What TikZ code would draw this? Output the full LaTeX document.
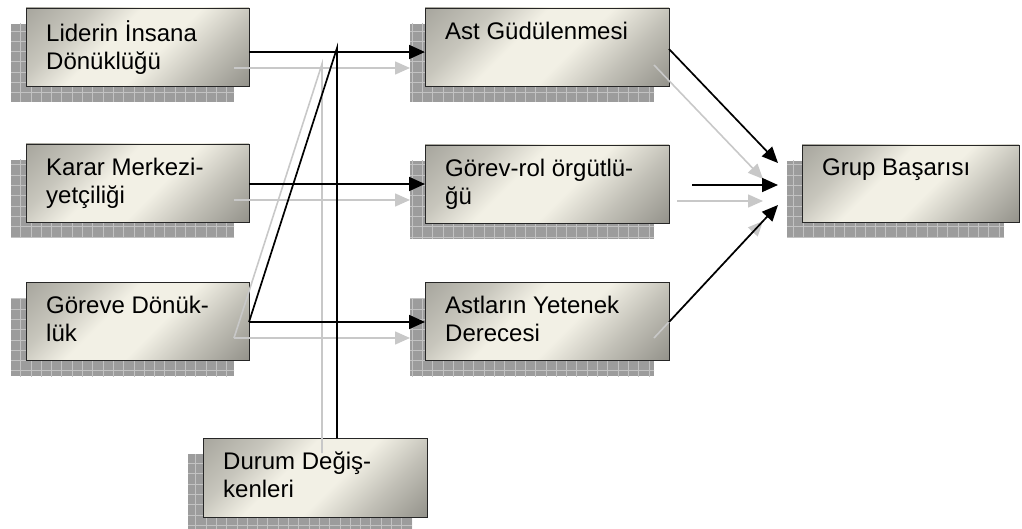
\documentclass[tikz,border=0pt]{standalone}
\usepackage{fontspec}
\setmainfont{Liberation Sans}
\usetikzlibrary{arrows.meta,calc}

\definecolor{boxdark}{RGB}{136,135,128}
\definecolor{boxlight}{RGB}{242,240,229}
\definecolor{boxdeep}{RGB}{104,103,97}
\definecolor{shadowfill}{RGB}{156,156,156}
\definecolor{shadowline}{RGB}{194,194,194}
\definecolor{ghost}{RGB}{200,200,200}

\pgfdeclarelayer{background}
\pgfsetlayers{background,main}

\pgfdeclarehorizontalshading{panelshade}{100bp}{%
  color(0bp)=(boxdark); color(30bp)=(boxdark!40!boxlight);
  color(42bp)=(boxlight); color(56bp)=(boxlight);
  color(70bp)=(boxlight!65!boxdeep); color(100bp)=(boxdeep)}

\tikzset{
  panel/.style={draw=black!85, line width=0.9pt,
    shading=panelshade, shading angle=-45,
    minimum width=223pt, minimum height=78pt,
    anchor=north west, inner sep=0pt, outer sep=0pt},
  caption/.style={anchor=north west, align=left, inner sep=0pt,
    font=\fontsize{24}{28}\selectfont},
  link/.style={line width=1.7pt, black, -{Triangle[length=16pt,width=14pt]}},
  plain/.style={line width=1.7pt, black},
  ghostlink/.style={line width=1.6pt, ghost, -{Triangle[length=15pt,width=13pt]}},
  ghostline/.style={line width=1.6pt, ghost},
}

% grid-patterned drop shadow behind a box, offset down and to the left
\newcommand\gridshadow[1]{%
  \begin{scope}
    \path[clip] ($(#1.south west)+(-15,-16)$) rectangle ($(#1.north east)+(-15,-16)$);
    \fill[shadowfill] ($(#1.south west)+(-15,-16)$) rectangle ($(#1.north east)+(-15,-16)$);
    \draw[shadowline, line width=0.7pt, step=10.3pt]
      ($(#1.south west)+(-30,-30)$) grid ($(#1.north east)+(0,0)$);
  \end{scope}}

\begin{document}
\begin{tikzpicture}[x=1pt, y=1pt]
  \useasboundingbox (0,-529) rectangle (1022,0);

  % boxes
  \node[panel] (b1) at (26,-8) {};
  \node[panel] (b2) at (26,-144) {};
  \node[panel] (b3) at (26,-282) {};
  \node[panel, minimum width=244pt] (m1) at (425,-8) {};
  \node[panel, minimum width=244pt] (m2) at (425,-145) {};
  \node[panel, minimum width=244pt] (m3) at (425,-282) {};
  \node[panel, minimum width=217pt, minimum height=77pt] (g) at (802,-145) {};
  \node[panel, minimum width=224pt, minimum height=79pt] (d) at (203,-438) {};

  \begin{pgfonlayer}{background}
    \foreach \b in {b1,b2,b3,m1,m2,m3,g,d} {\gridshadow{\b}}
  \end{pgfonlayer}

  % box captions
  \node[caption] (b1t) at ($(b1.north west)+(20,-12)$) {\strut Liderin İnsana\\Dönüklüğü};
  \node[caption] (b2t) at ($(b2.north west)+(20,-12)$) {\strut Karar Merkezi-\\yetçiliği};
  \node[caption] (b3t) at ($(b3.north west)+(20,-12)$) {\strut Göreve Dönük-\\lük};
  \node[caption] (m1t) at ($(m1.north west)+(20,-12)$) {\strut Ast Güdülenmesi};
  \node[caption] (m2t) at ($(m2.north west)+(20,-12)$) {\strut Görev-rol örgütlü-\\ğü};
  \node[caption] (m3t) at ($(m3.north west)+(20,-12)$) {\strut Astların Yetenek\\Derecesi};
  \node[caption] (gt)  at ($(g.north west)+(20,-11)$)  {\strut Grup Başarısı};
  \node[caption] (dt)  at ($(d.north west)+(20,-12)$)  {\strut Durum Değiş-\\kenleri};

  % connector anchor points
  \coordinate (s1) at ($(b1.north east)+(0,-44)$);
  \coordinate (s2) at ($(b2.north east)+(0,-40)$);
  \coordinate (s3) at ($(b3.north east)+(0,-40)$);
  \coordinate (apex) at ($(d.north west)+(134,390)$);
  \coordinate (foot) at (apex |- d.north);
  \coordinate (r1) at ($(m1.north east)+(0,-41)$);
  \coordinate (r2) at ($(m2.north east)+(23,-40)$);
  \coordinate (r3) at ($(m3.north east)+(0,-40)$);
  \coordinate (e1) at ($(g.north west)+(-24,-18)$);
  \coordinate (e2) at ($(g.north west)+(-24,-40)$);
  \coordinate (e3) at ($(g.north west)+(-24,-60)$);

  % light offset copies of the connectors
  \draw[ghostlink] ($(s1)+(-15,-16)$) -- ($(s1 -| m1.west)+(-15,-16)$);
  \draw[ghostlink] ($(s2)+(-15,-16)$) -- ($(s2 -| m2.west)+(-15,-16)$);
  \draw[ghostlink] ($(s3)+(-15,-16)$) -- ($(s3 -| m3.west)+(-15,-16)$);
  \draw[ghostline] ($(foot)+(-15,-15)$) -- ($(apex)+(-15,-16)$) -- ($(s3)+(-15,-16)$);
  \draw[ghostlink] ($(r1)+(-15,-16)$) -- ($(e1)+(-15,-16)$);
  \draw[ghostlink] ($(r2)+(-15,-16)$) -- ($(e2)+(-15,-16)$);
  \draw[ghostlink] ($(r3)+(-15,-16)$) -- ($(e3)+(-15,-16)$);

  % connectors
  \draw[link] (s1) -- (s1 -| m1.west);
  \draw[link] (s2) -- (s2 -| m2.west);
  \draw[link] (s3) -- (s3 -| m3.west);
  \draw[plain] (foot) -- (apex) -- (s3);
  \draw[link] (r1) -- (e1);
  \draw[link] (r2) -- (e2);
  \draw[link] (r3) -- (e3);
\end{tikzpicture}
\end{document}
